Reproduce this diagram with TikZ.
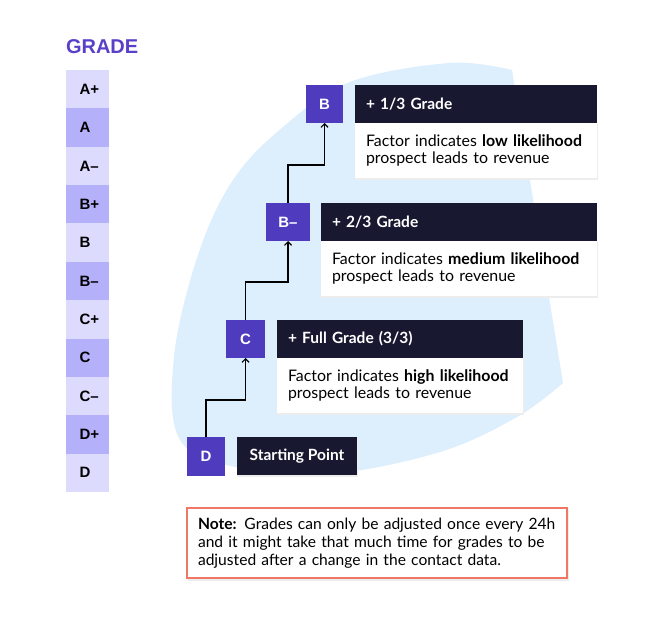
\documentclass[tikz,border=0pt]{standalone}
\usepackage{fontspec}
\setmainfont{Lato}
\newfontfamily\arialf{Liberation Sans}
\usetikzlibrary{arrows.meta}
\definecolor{purp}{HTML}{4E3BBE}
\definecolor{gradetxt}{HTML}{5A40C8}
\definecolor{navy}{HTML}{181830}
\definecolor{celllight}{HTML}{DCDAFD}
\definecolor{celldark}{HTML}{B4B0FA}
\definecolor{blobc}{HTML}{DDEEFD}
\definecolor{notec}{HTML}{F07666}
\begin{document}
\begin{tikzpicture}[x=1pt,y=-1pt,
  every node/.style={outer sep=0pt},
  gbox/.style={fill=purp, text=white, minimum height=38, font=\arialf\bfseries\fontsize{15}{17}\selectfont, inner sep=0pt},
  head/.style={fill=navy, text=white, minimum height=38, inner xsep=11, inner ysep=0pt, align=left, font=\bfseries\fontsize{15.5}{19}\selectfont},
  body/.style={fill=white, minimum height=55, inner xsep=11, inner ysep=0pt, align=left, font=\fontsize{15.9}{17.5}\selectfont, text width=220},
  shad/.style={fill=black!7},
  conn/.style={draw=black, line width=1.2pt, -{Straight Barb[length=3.5pt,width=7pt]}},
  cell/.style={minimum width=43, minimum height=38.4, inner sep=0pt, anchor=north west}
]
\useasboundingbox (0,0) rectangle (663,617);
\fill[white] (0,0) rectangle (663,617);
% background blob
\fill[blobc] plot[smooth, tension=0.6] coordinates {(512,70) (450,63) (350,82) (283,127) (233,180) (198,255) (174,357) (180,440) (240,468) (330,474) (440,452) (517,417) (563,383)} -- cycle;

% grade column
\node[anchor=north west, text=gradetxt, font=\arialf\bfseries\fontsize{20}{22}\selectfont, inner sep=0pt] (title) at (66,40) {GRADE};
\foreach \g [count=\i from 0] in {A+,A,A–,B+,B,B–,C+,C,C–,D+,D}{
  \pgfmathsetmacro{\yy}{70+\i*38.36}
  \pgfmathtruncatemacro{\odd}{mod(\i,2)}
  \ifnum\odd=0 \def\cc{celllight}\else\def\cc{celldark}\fi
  \node[cell, fill=\cc] (cell\i) at (66,\yy) {};
  \node[anchor=west, inner sep=0pt, font=\arialf\bfseries\fontsize{15}{17}\selectfont] (lab\i) at ([xshift=13.5]cell\i.west) {\g};
}

% shadows
\fill[shad] (355,124) rectangle (598,180);
\fill[shad] (321,242) rectangle (598,298);
\fill[shad] (277,359) rectangle (524,415);
\fill[shad] (237,438) rectangle (358,477);
\fill[shad] (188,509) rectangle (569,581);

% grade steps
\node[gbox, anchor=north west, minimum width=38, minimum height=39] (D) at (187,437) {D};
\node[gbox, anchor=north west, minimum width=39] (C) at (226,320) {C};
\node[gbox, anchor=north west, minimum width=44] (Bm) at (266,203) {B–};
\node[gbox, anchor=north west, minimum width=37] (B) at (306,85) {B};

% headers and bodies
\node[head, anchor=north west, text width=220] (hB) at (355,85) {+ 1/3 Grade};
\node[body, anchor=north west] (bB) at (355,123) {Factor indicates \textbf{low likelihood}\\prospect leads to revenue};
\node[head, anchor=north west, text width=254] (hBm) at (321,203) {+ 2/3 Grade};
\node[body, anchor=north west, text width=254] (bBm) at (321,241) {Factor indicates \textbf{medium likelihood}\\prospect leads to revenue};
\node[head, anchor=north west, text width=224] (hC) at (277,320) {+ Full Grade (3/3)};
\node[body, anchor=north west, text width=224] (bC) at (277,358) {Factor indicates \textbf{high likelihood}\\prospect leads to revenue};
\node[head, anchor=north west, minimum width=120, align=left] (hD) at (237,437) {Starting Point};

% connectors
\draw[conn] (D.north) -- ++(0,-37) -| (C.south);
\draw[conn] (C.north) -- ++(0,-38) -| (Bm.south);
\draw[conn] (Bm.north) -- ++(0,-38) -| (B.south);

% note
\node[anchor=north west, draw=notec, line width=1.3pt, fill=white, minimum width=380, minimum height=70, text width=358, inner xsep=11, inner ysep=0pt, align=left, font=\fontsize{15.6}{17.8}\selectfont] (note) at (187,508) {\textbf{Note:} Grades can only be adjusted once every 24h\\and it might take that much time for grades to be\\adjusted after a change in the contact data.};
\end{tikzpicture}
\end{document}
